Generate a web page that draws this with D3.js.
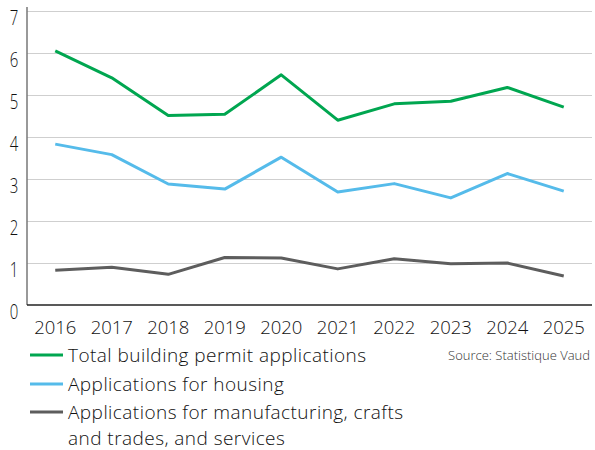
<!DOCTYPE html>
<meta charset="utf-8">
<head>
    <title>Building permit applications</title>
    <script src="https://d3js.org/d3.v7.min.js"></script>
</head>

<style>
body { margin: 0; background: #fff; }
svg { display: block; font-family: "Open Sans", sans-serif; font-weight: 300; }
.grid line { stroke: #cfcfcf; stroke-width: 1; }
.grid .domain { display: none; }
.yax text, .xax text { fill: #111; }
</style>

<body>
<svg></svg>

<script>

// data
let years = ["2016", "2017", "2018", "2019", "2020", "2021", "2022", "2023", "2024", "2025"];
let total   = [6.05, 5.41, 4.51, 4.54, 5.48, 4.40, 4.79, 4.85, 5.18, 4.71];
let housing = [3.83, 3.58, 2.88, 2.76, 3.52, 2.69, 2.89, 2.55, 3.13, 2.71];
let other   = [0.83, 0.90, 0.73, 1.13, 1.12, 0.86, 1.10, 0.98, 1.00, 0.69];
let yTicks = [0, 1, 2, 3, 4, 5, 6, 7];

let series = [
  {name: ["Total building permit applications"], values: total, color: "#00a650"},
  {name: ["Applications for housing"], values: housing, color: "#55bbea"},
  {name: ["Applications for manufacturing, crafts", "and trades, and services"], values: other, color: "#5d5d5d"}
];

let width = 595, height = 450;
let plot = {left: 27, right: 592, top: 11, bottom: 305};

let svg = d3.select("svg")
    .attr("width", width)
    .attr("height", height);

let x = d3.scalePoint()
    .domain(years)
    .range([plot.left, plot.right])
    .padding(0.5);

let y = d3.scaleLinear()
    .domain([0, 7])
    .range([plot.bottom, plot.top]);

// gridlines
svg.append("g")
  .attr("class", "grid")
  .attr("transform", "translate(" + plot.left + ",0)")
  .call(d3.axisRight(y).tickValues(yTicks.slice(1)).tickSize(plot.right - plot.left).tickFormat(""));

// y axis labels (squeezed a bit, the original face is narrow)
let yax = svg.append("g").attr("class", "yax");
yax.selectAll("text")
  .data(yTicks)
  .enter()
  .append("text")
  .attr("text-anchor", "middle")
  .attr("font-size", 20)
  .attr("transform", d => "translate(14," + (y(d) + 14) + ") scale(0.75,1)")
  .text(d => d);

// y axis line
svg.append("line")
  .attr("x1", plot.left).attr("x2", plot.left)
  .attr("y1", plot.top - 4).attr("y2", plot.bottom)
  .attr("stroke", "#777").attr("stroke-width", 1.5);

// x axis
svg.append("line")
  .attr("x1", plot.left).attr("x2", plot.right)
  .attr("y1", plot.bottom).attr("y2", plot.bottom)
  .attr("stroke", "#222").attr("stroke-width", 1.5);

svg.append("g").attr("class", "xax")
  .selectAll("text")
  .data(years)
  .enter()
  .append("text")
  .attr("x", d => x(d))
  .attr("y", plot.bottom + 29)
  .attr("text-anchor", "middle")
  .attr("font-size", 18.5)
  .text(d => d);

// lines
let line = d3.line()
    .x((d, i) => x(years[i]))
    .y(d => y(d));

series.forEach(function(s) {
  svg.append("path")
    .datum(s.values)
    .attr("fill", "none")
    .attr("stroke", s.color)
    .attr("stroke-width", 3)
    .attr("stroke-linejoin", "round")
    .attr("d", line);
});

// legend
let rowY = [355, 384, 412];
series.forEach(function(s, i) {
  svg.append("line")
    .attr("x1", 30).attr("x2", 63)
    .attr("y1", rowY[i]).attr("y2", rowY[i])
    .attr("stroke", s.color).attr("stroke-width", 3);
  let label = svg.append("text")
    .attr("x", 68)
    .attr("y", rowY[i] + 7)
    .attr("font-size", 19)
    .attr("letter-spacing", 0.45)
    .attr("fill", "#111");
  s.name.forEach(function(t, j) {
    label.append("tspan")
      .attr("x", 68)
      .attr("dy", j == 0 ? 0 : 26)
      .text(t);
  });
});

svg.append("text")
  .attr("x", 590)
  .attr("y", 360)
  .attr("text-anchor", "end")
  .attr("font-size", 13)
  .attr("fill", "#333")
  .text("Source: Statistique Vaud");

</script>
</body>
